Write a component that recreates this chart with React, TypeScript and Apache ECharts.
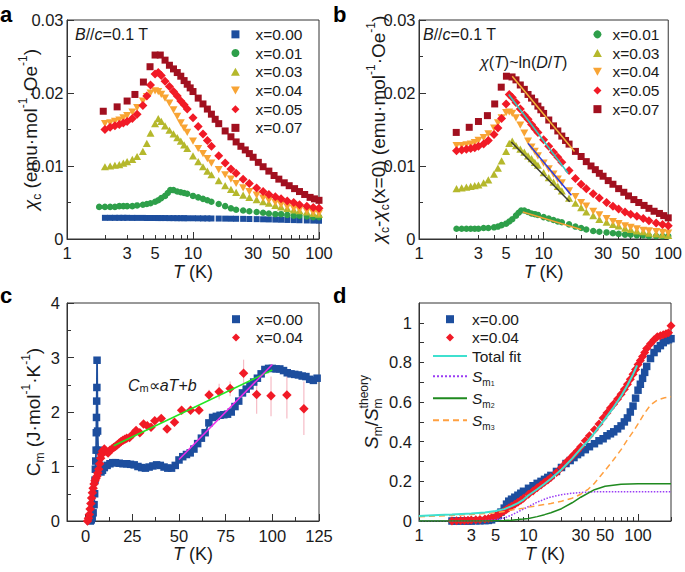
import React, { useEffect, useRef } from 'react';
import * as echarts from 'echarts';

const FONT = "'Liberation Sans', Arial, Helvetica, sans-serif";
const TXT = '#1a1a1a';
const AX = '#333333';

// ---------- Panel a : chi_c vs T ----------
const tA = [2, 2.2, 2.4, 2.6, 2.8, 3, 3.3, 3.6, 4, 4.3, 4.6, 5, 5.3, 5.6, 6, 6.5, 7, 7.5, 8, 8.5, 9, 10, 11, 12, 13, 14, 16, 18, 20, 22, 25, 28, 32, 36, 40, 45, 50, 56, 63, 70, 80, 90, 100];
const a000 = [.00290, .00290, .00290, .00290, .00290, .00290, .00289, .00289, .00289, .00288, .00288, .00288, .00287, .00287, .00287, .00286, .00286, .00285, .00285, .00285, .00284, .00284, .00283, .00282, .00282, .00281, .00280, .00279, .00278, .00277, .00276, .00274, .00272, .00270, .00268, .00266, .00264, .00261, .00259, .00257, .00254, .00252, .00250];
const tGa = [1.8, 2, 2.2, 2.4, 2.6, 2.8, 3, 3.3, 3.6, 4, 4.3, 4.6, 5, 5.3, 5.6, 6, 6.3, 6.6, 7, 7.5, 8, 8.5, 9, 10, 11, 12, 13, 14, 16, 18, 20, 22, 25, 28, 32, 36, 40, 45, 50, 56, 63, 70, 80, 90, 100];
const a001 = [.0044, .0044, .0044, .0044, .0045, .0045, .0045, .0045, .0046, .0047, .0048, .0049, .0051, .0053, .0056, .0059, .0063, .0067, .0067, .0065, .0064, .0063, .0062, .0059, .0057, .0055, .0053, .0051, .0048, .0045, .0042, .0040, .0039, .0038, .0037, .0036, .0035, .0034, .0034, .0033, .0032, .0032, .0031, .0030, .0030];
const a003 = [.0099, .0100, .0101, .0102, .0104, .0106, .0109, .0113, .0120, .0131, .0145, .0158, .0165, .0161, .0155, .0149, .0144, .0139, .0134, .0129, .0124, .0114, .0106, .0099, .0093, .0088, .0080, .0073, .0068, .0064, .0060, .0057, .0054, .0051, .0049, .0046, .0044, .0042, .0040, .0039, .0037, .0035, .0034];
const a004 = [.0158, .0159, .0161, .0163, .0166, .0169, .0174, .0180, .0189, .0195, .0200, .0203, .0202, .0198, .0193, .0186, .0177, .0168, .0159, .0152, .0146, .0134, .0124, .0117, .0110, .0104, .0095, .0088, .0082, .0076, .0070, .0065, .0060, .0056, .0053, .0050, .0047, .0044, .0042, .0040, .0038, .0036, .0035];
const a005 = [.0150, .0153, .0155, .0157, .0159, .0161, .0165, .0171, .0183, .0196, .0211, .0226, .0228, .0224, .0216, .0209, .0202, .0196, .0189, .0184, .0178, .0166, .0154, .0144, .0135, .0127, .0114, .0104, .0096, .0090, .0082, .0076, .0070, .0065, .0061, .0058, .0055, .0052, .0050, .0047, .0045, .0043, .0042];
const tDRa = [1.94, 2.5, 3.0, 3.46, 4.04, 4.56, 5.0, 5.5, 6, 6.5, 7, 7.5, 8, 8.5, 9, 9.5, 10, 11, 12, 13, 14, 15, 16, 18, 20, 22, 24, 26, 28, 30, 33, 36, 40, 44, 48, 53, 58, 64, 70, 77, 85, 92, 100];
const a007 = [.0175, .0181, .0189, .0198, .0215, .0236, .0252, .0252, .0245, .0238, .0233, .0228, .0223, .0217, .0212, .0207, .0202, .0193, .0185, .0178, .0171, .0164, .0158, .0148, .0140, .0133, .0127, .0122, .0117, .0112, .0105, .0099, .0093, .0087, .0082, .0077, .0073, .0069, .0065, .0061, .0057, .0055, .0053];

// ---------- Panel b : chi_c - chi_c(x=0) ----------
const tGb = [2, 2.2, 2.4, 2.6, 2.8, 3, 3.3, 3.6, 4, 4.3, 4.6, 5, 5.3, 5.6, 6, 6.3, 6.6, 7, 7.5, 8, 8.5, 9, 10, 11, 12, 13, 14, 16, 18, 20, 22, 25, 28, 32, 36, 40, 45, 50, 56, 63, 70, 80, 90, 100];
const b001 = [.0014, .0014, .0014, .0014, .0014, .0014, .0015, .0015, .0016, .0017, .0019, .0021, .0024, .0027, .0032, .0036, .0039, .0039, .0037, .0035, .0034, .0033, .0030, .0028, .0026, .0024, .0023, .0020, .0017, .0015, .0013, .0011, .0010, .0009, .0008, .0007, .0006, .0006, .0005, .0005, .0004, .0004, .0004, .0004];
const b003 = [.0069, .0070, .0071, .0072, .0073, .0074, .0077, .0081, .0089, .0097, .0107, .0120, .0131, .0134, .0128, .0123, .0119, .0114, .0110, .0105, .0101, .0091, .0084, .0078, .0072, .0066, .0056, .0049, .0043, .0037, .0032, .0027, .0023, .0020, .0018, .0015, .0013, .0011, .0010, .0008, .0007, .0006, .0005];
const b004 = [.0128, .0128, .0129, .0130, .0132, .0135, .0139, .0144, .0152, .0159, .0166, .0173, .0174, .0172, .0166, .0156, .0145, .0134, .0126, .0120, .0114, .0104, .0096, .0089, .0082, .0077, .0066, .0058, .0050, .0045, .0038, .0033, .0028, .0024, .0021, .0018, .0016, .0014, .0012, .0011, .0010, .0009, .0008];
const b005 = [.0121, .0122, .0123, .0124, .0125, .0127, .0130, .0135, .0143, .0152, .0165, .0185, .0198, .0194, .0187, .0178, .0170, .0164, .0157, .0151, .0146, .0136, .0127, .0119, .0112, .0105, .0094, .0083, .0075, .0069, .0062, .0056, .0050, .0045, .0041, .0037, .0034, .0031, .0028, .0025, .0022, .0020, .0018];
const tDRb = [1.99, 2.53, 3.0, 3.54, 4.05, 4.57, 5.03, 5.58, 6, 6.5, 7, 7.5, 8, 8.5, 9, 9.5, 10, 11, 12, 13, 14, 15, 16, 18, 20, 22, 24, 26, 28, 30, 33, 36, 40, 44, 48, 53, 58, 64, 70, 77, 85, 92, 100];
const b007 = [.0146, .0153, .0161, .0169, .0185, .0208, .0223, .0222, .0218, .0211, .0205, .0198, .0193, .0188, .0182, .0177, .0172, .0163, .0155, .0148, .0141, .0135, .0130, .0120, .0113, .0106, .0100, .0095, .0090, .0086, .0080, .0075, .0069, .0064, .0059, .0054, .0050, .0046, .0042, .0038, .0035, .0032, .0029];
// ln(D/T) fit segments: [T, value]
const fitB07 = [[5.6, .0223], [17.7, .0120]];
const fitB05 = [[5.25, .0198], [15.7, .0090]];
const fitB04 = [[7.5, .0131], [16.7, .0060]];
const fitB03 = [[5.5, .0133], [16.2, .0051]];
const fitB01 = [[6.8, .0037], [20, .0013]];

// ---------- Panel c : C_m vs T ----------
const cBlueT = [2.5, 3.0, 3.5, 4.0, 4.5, 4.8, 5.0, 5.2, 5.4, 5.6, 5.7, 5.8, 5.9, 6.0, 6.1, 6.4, 6.7, 7.0, 7.5, 8.2, 9, 10, 11.5, 13, 14.5, 16, 18, 20, 22, 24, 26, 28, 30, 32, 34, 36, 38, 40, 42, 44, 46, 48, 50, 52, 54, 56, 58, 60, 62, 64, 66, 68, 70, 72, 74, 76, 78, 80, 82, 84, 86, 88, 90, 92, 94, 96, 98, 100, 102, 104, 106, 108, 110, 112, 114, 116, 118, 120, 122, 124];
const cBlueV = [0.0, 0.02, 0.06, 0.15, 0.3, 0.5, 0.75, 0.95, 1.1, 1.3, 1.62, 1.9, 2.2, 2.45, 2.95, 1.65, 1.3, 1.1, 0.95, 0.9, 0.93, 0.98, 1.02, 1.05, 1.07, 1.07, 1.06, 1.05, 1.05, 1.04, 1.03, 1.0, 0.98, 0.97, 0.99, 1.01, 1.03, 1.02, 0.99, 0.97, 0.97, 1.02, 1.12, 1.18, 1.22, 1.25, 1.32, 1.42, 1.52, 1.62, 1.8, 1.9, 1.92, 1.94, 1.95, 1.96, 2.0, 2.1, 2.2, 2.35, 2.42, 2.48, 2.55, 2.62, 2.7, 2.78, 2.8, 2.8, 2.79, 2.79, 2.76, 2.72, 2.7, 2.69, 2.68, 2.66, 2.65, 2.6, 2.58, 2.62];
const cRedT = [1.0, 1.5, 2.0, 2.4, 2.8, 3.2, 3.6, 4.0, 4.5, 5.0, 5.5, 6.0, 6.5, 7.0, 7.5, 8.0, 8.5, 9.0, 10, 11, 12, 13, 14, 15, 16, 17, 18, 19, 20, 21, 22, 23.5, 25.5, 27, 29, 31, 33, 35, 37, 40.5, 43.6, 47.6, 51.4, 56.2, 60.7, 66.1, 71.5, 77.4, 84.6, 91.6, 99.3, 107.8, 116.9];
const cRedV = [0.0, 0.05, 0.12, 0.22, 0.32, 0.42, 0.52, 0.6, 0.68, 0.74, 0.78, 0.82, 0.88, 0.95, 1.05, 1.15, 1.22, 1.28, 1.32, 1.28, 1.25, 1.3, 1.32, 1.35, 1.37, 1.4, 1.43, 1.46, 1.48, 1.5, 1.52, 1.53, 1.6, 1.66, 1.62, 1.78, 1.75, 1.72, 1.84, 1.88, 1.69, 1.81, 2.03, 2.03, 2.03, 2.31, 2.37, 2.43, 2.71, 2.32, 2.3, 2.31, 2.06];
const errT = [66.1, 71.5, 77.4, 84.6, 91.6, 99.3, 107.8, 116.9];
const errLo = [2.21, 2.23, 2.29, 2.46, 1.97, 1.92, 1.88, 1.58];
const errHi = [2.41, 2.52, 2.56, 2.96, 2.66, 2.65, 2.72, 2.56];
const fitCg = [[15, 1.38], [100, 2.77]];
const fitCm = [[50, 1.13], [100, 2.87]];

// ---------- Panel d : S_m / S_m^theory ----------
const tD = [2, 2.2, 2.4, 2.6, 2.8, 3, 3.3, 3.6, 4, 4.3, 4.6, 5, 5.3, 5.6, 6, 6.3, 6.6, 7, 7.5, 8, 8.5, 9, 10, 11, 12, 13, 14, 15, 16, 18, 20, 22, 24, 26, 28, 30, 33, 36, 40, 44, 48, 52, 56, 60, 65, 70, 75, 80, 85, 90, 95, 100, 105, 110, 115, 120, 130, 140, 150, 160, 170, 180, 190, 200];
const d000 = [0, 0, 0, 0, 0, 0, 0.001, 0.001, 0.002, 0.003, 0.006, 0.015, 0.028, 0.045, 0.065, 0.085, 0.1, 0.11, 0.12, 0.13, 0.14, 0.15, 0.165, 0.178, 0.19, 0.2, 0.21, 0.22, 0.23, 0.25, 0.27, 0.29, 0.305, 0.32, 0.335, 0.345, 0.36, 0.375, 0.39, 0.405, 0.415, 0.43, 0.44, 0.45, 0.465, 0.48, 0.5, 0.52, 0.55, 0.58, 0.62, 0.66, 0.69, 0.72, 0.75, 0.78, 0.82, 0.85, 0.87, 0.885, 0.9, 0.91, 0.915, 0.92];
const d004 = [0, 0.001, 0.002, 0.003, 0.004, 0.005, 0.006, 0.008, 0.01, 0.013, 0.017, 0.024, 0.032, 0.04, 0.05, 0.058, 0.066, 0.075, 0.085, 0.095, 0.105, 0.115, 0.135, 0.152, 0.168, 0.182, 0.195, 0.207, 0.22, 0.245, 0.27, 0.295, 0.315, 0.335, 0.355, 0.375, 0.405, 0.43, 0.46, 0.49, 0.52, 0.545, 0.57, 0.59, 0.615, 0.64, 0.665, 0.69, 0.715, 0.74, 0.765, 0.79, 0.81, 0.83, 0.85, 0.87, 0.895, 0.915, 0.93, 0.935, 0.94, 0.945, 0.95, 0.985];
const tFit = [1, 1.5, 2, 3, 4, 5, 6, 7, 8, 9, 10, 12, 14, 16, 20, 25, 30, 35, 40, 50, 60, 70, 80, 90, 98];
const dTot = [0.025, 0.03, 0.033, 0.038, 0.043, 0.05, 0.06, 0.075, 0.09, 0.108, 0.13, 0.16, 0.188, 0.213, 0.26, 0.315, 0.365, 0.405, 0.445, 0.515, 0.575, 0.63, 0.685, 0.74, 0.785];
const tS = [1, 2, 3, 4, 5, 6, 7, 8, 9, 10, 12, 14, 16, 20, 25, 30, 40, 50, 70, 100, 150, 200];
const dS1 = [0, 0, 0, 0.002, 0.006, 0.015, 0.03, 0.046, 0.06, 0.073, 0.095, 0.11, 0.121, 0.133, 0.14, 0.144, 0.147, 0.148, 0.148, 0.148, 0.148, 0.148];
const dS2 = [0, 0, 0, 0, 0.001, 0.002, 0.004, 0.007, 0.01, 0.013, 0.022, 0.032, 0.042, 0.062, 0.092, 0.12, 0.158, 0.175, 0.186, 0.188, 0.188, 0.188];
const tS3 = [1, 2, 3, 4, 5, 6, 7, 8, 9, 10, 12, 14, 16, 20, 25, 30, 35, 40, 45, 50, 60, 70, 80, 90, 100, 115, 130, 150, 175, 200];
const dS3 = [0.022, 0.028, 0.033, 0.038, 0.042, 0.048, 0.055, 0.06, 0.065, 0.07, 0.077, 0.083, 0.088, 0.1, 0.115, 0.135, 0.16, 0.19, 0.225, 0.255, 0.31, 0.36, 0.41, 0.45, 0.49, 0.545, 0.585, 0.61, 0.622, 0.627];

// ---------- axis tick / label values ----------
const LOG_LABELS = [1, 3, 5, 10, 30, 50, 100];
const LOG_MINOR = [2, 3, 4, 5, 6, 7, 8, 9, 20, 30, 40, 50, 60, 70, 80, 90];
const LOG_MINOR_D = [2, 3, 4, 5, 6, 7, 8, 9, 20, 30, 40, 50, 60, 70, 80, 90, 200];
const LOG_MAJOR = [1, 10, 100];
const C_LABELS = [0, 25, 50, 75, 100, 125];
const C_MINOR = [12.5, 37.5, 62.5, 87.5, 112.5];
const D_YLABELS = [0, 0.2, 0.4, 0.6, 0.8, 1];
const D_YTICKS = [0, 0.1, 0.2, 0.3, 0.4, 0.5, 0.6, 0.7, 0.8, 0.9, 1];

const LEGEND_TEXT: Record<string, string> = {
  a0: 'x=0.00', a1: 'x=0.01', a3: 'x=0.03', a4: 'x=0.04', a5: 'x=0.05', a7: 'x=0.07',
  b1: 'x=0.01', b3: 'x=0.03', b4: 'x=0.04', b5: 'x=0.05', b7: 'x=0.07',
  c0: 'x=0.00', c4: 'x=0.04',
  d0: 'x=0.00', d4: 'x=0.04', dT: 'Total fit',
  dS1: '{si|S}{ls|m}{lss|1}', dS2: '{si|S}{ls|m}{lss|2}', dS3: '{si|S}{ls|m}{lss|3}',
};

const C = {
  blue: '#1d4e9e', green: '#2e9f4a', olive: '#b5b82c', orange: '#f8a434', red: '#f11a26', dred: '#a1101f',
};
const SQ = 'path://M0,0L10,0L10,10L0,10Z';
const DIA = 'path://M5,0L10,5L5,10L0,5Z';
const TRI = 'path://M5,0L10,9L0,9Z';
const INV_TRI = 'path://M0,0L10,0L5,9Z';

const zip = (t: number[], v: number[]) => t.map((x, i) => [x, v[i]]);

function richC(fs: number) {
  const s = Math.round(fs * 0.64);
  return {
    i: { fontStyle: 'italic', fontSize: fs, fontFamily: FONT, color: TXT },
    sub: { fontSize: s, fontFamily: FONT, color: TXT, verticalAlign: 'bottom', lineHeight: s },
    sup: { fontSize: s, fontFamily: FONT, color: TXT, verticalAlign: 'top', lineHeight: s },
    supb: { fontSize: s, fontFamily: FONT, color: TXT, verticalAlign: 'top', lineHeight: s, padding: [0, 0, 0, -Math.round(s * 0.85)] },
  };
}
function richG(fs: number) {
  const s = Math.round(fs * 0.66);
  return {
    i: { fontStyle: 'italic', fontSize: fs, fontFamily: FONT, fill: TXT },
    sub: { fontSize: s, fontFamily: FONT, fill: TXT, verticalAlign: 'bottom', lineHeight: s },
  };
}

const NAME_X = {
  fontSize: 18, fontFamily: FONT, color: TXT, lineHeight: 24, rich: richC(18),
};
const NAME_Y = {
  fontSize: 19, fontFamily: FONT, color: TXT, lineHeight: 26, rich: richC(19),
};
const LABEL = { fontSize: 16.5, fontFamily: FONT, color: TXT };

function logMain(gi: number, max: number, minor: number[]) {
  return {
    type: 'log', logBase: 10, gridIndex: gi, min: 1, max,
    name: '{i|T} (K)', nameLocation: 'middle', nameGap: 21, nameTextStyle: NAME_X, nameMoveOverlap: false,
    axisLine: { show: true, onZero: false, lineStyle: { color: AX, width: 1 } },
    axisTick: { show: true, inside: true, length: 4, customValues: minor, lineStyle: { color: AX } },
    axisLabel: { ...LABEL, margin: 5, customValues: LOG_LABELS, formatter: (v: number) => String(v) },
    splitLine: { show: false },
  };
}
function logMajor(gi: number, max: number) {
  return {
    type: 'log', logBase: 10, gridIndex: gi, min: 1, max, position: 'bottom',
    axisLine: { show: false, onZero: false },
    axisTick: { show: true, inside: true, length: 7, customValues: LOG_MAJOR, lineStyle: { color: AX } },
    axisLabel: { show: false },
    splitLine: { show: false },
  };
}
function chiY(gi: number, name: string, gap: number) {
  return {
    type: 'value', gridIndex: gi, min: 0, max: 0.03, interval: 0.01,
    name, nameLocation: 'middle', nameGap: gap, nameTextStyle: NAME_Y, nameMoveOverlap: false,
    axisLine: { show: true, onZero: false, lineStyle: { color: AX, width: 1 } },
    axisTick: { show: true, inside: true, length: 7, lineStyle: { color: AX } },
    minorTick: { show: true, splitNumber: 2, length: 4, lineStyle: { color: AX } },
    axisLabel: { ...LABEL, margin: 3.5 },
    splitLine: { show: false }, minorSplitLine: { show: false },
  };
}

function sc(name: string, xi: number, yi: number, data: number[][], symbol: string, size: number, color: string, z = 2) {
  return { type: 'scatter', name, xAxisIndex: xi, yAxisIndex: yi, data, symbol, symbolSize: size, symbolKeepAspect: true, itemStyle: { color, opacity: 1 }, silent: true, z };
}
function ln(name: string, xi: number, yi: number, data: number[][], color: string, width: number, type: any = 'solid', z = 5) {
  return { type: 'line', name, xAxisIndex: xi, yAxisIndex: yi, data, symbol: 'none', lineStyle: { color, width, type }, itemStyle: { color }, silent: true, z };
}

function legend(names: any[], left: number, top: number, itemWidth: number, lineHeight: number) {
  return {
    show: true, orient: 'vertical', left, top, padding: 0, itemGap: 0,
    itemWidth, itemHeight: 8, selectedMode: false, data: names, symbolKeepAspect: true,
    formatter: (n: string) => LEGEND_TEXT[n] || n,
    textStyle: {
      fontSize: 15.5, fontFamily: FONT, color: TXT, lineHeight,
      rich: {
        si: { fontStyle: 'italic', fontSize: 15.5, fontFamily: FONT, color: TXT, lineHeight: 22 },
        ls: { fontSize: 10, fontFamily: FONT, color: TXT, verticalAlign: 'bottom', lineHeight: 12 },
        lss: { fontSize: 7, fontFamily: FONT, color: TXT, verticalAlign: 'bottom', lineHeight: 6 },
      },
    },
  };
}
const lineItem = (name: string) => ({ name, itemStyle: { opacity: 0 } });

function buildOption(): any {
  const grids = [
    { left: 67, top: 20, width: 252, height: 219 },
    { left: 419, top: 20, width: 253, height: 219 },
    { left: 67, top: 303, width: 252, height: 218 },
    { left: 419, top: 303, width: 252, height: 218 },
  ].map((g) => ({ ...g, show: true, borderColor: AX, borderWidth: 1, backgroundColor: 'transparent', containLabel: false }));

  const xAxis = [
    logMain(0, 100, LOG_MINOR), logMajor(0, 100),
    logMain(1, 100, LOG_MINOR), logMajor(1, 100),
    {
      type: 'value', gridIndex: 2, min: -10, max: 125,
      name: '{i|T} (K)', nameLocation: 'middle', nameGap: 21, nameTextStyle: NAME_X, nameMoveOverlap: false,
      axisLine: { show: true, onZero: false, lineStyle: { color: AX, width: 1 } },
      axisTick: { show: true, inside: true, length: 7, customValues: C_LABELS, lineStyle: { color: AX } },
      axisLabel: { ...LABEL, margin: 6, customValues: C_LABELS },
      splitLine: { show: false },
    },
    {
      type: 'value', gridIndex: 2, min: -10, max: 125, position: 'bottom',
      axisLine: { show: false, onZero: false },
      axisTick: { show: true, inside: true, length: 4, customValues: C_MINOR, lineStyle: { color: AX } },
      axisLabel: { show: false }, splitLine: { show: false },
    },
    logMain(3, 200, LOG_MINOR_D), logMajor(3, 200),
  ];

  const yAxis = [
    chiY(0, '{i|χ}{sub|c} (emu·mol{sup|-1}·Oe{sup|-1})', 24),
    chiY(1, '{i|χ}{sub|c}-{i|χ}{sub|c}(x=0) (emu·mol{sup|-1}·Oe{sup|-1})', 28),
    {
      type: 'value', gridIndex: 2, min: 0, max: 4, interval: 1,
      name: 'C{sub|m} (J·mol{sup|-1}·K{sup|-1})', nameLocation: 'middle', nameGap: 21, nameTextStyle: NAME_Y, nameMoveOverlap: false,
      axisLine: { show: true, onZero: false, lineStyle: { color: AX, width: 1 } },
      axisTick: { show: true, inside: true, length: 7, lineStyle: { color: AX } },
      minorTick: { show: true, splitNumber: 2, length: 4, lineStyle: { color: AX } },
      axisLabel: { ...LABEL, margin: 7 },
      splitLine: { show: false }, minorSplitLine: { show: false },
    },
    {
      type: 'value', gridIndex: 3, min: 0, max: 1.1,
      name: '{i|S}{sub|m}/{i|S}{sub|m}{supb|theory}', nameLocation: 'middle', nameGap: 35, nameTextStyle: NAME_Y, nameMoveOverlap: false,
      axisLine: { show: true, onZero: false, lineStyle: { color: AX, width: 1 } },
      axisTick: { show: true, inside: true, length: 5, customValues: D_YTICKS, lineStyle: { color: AX } },
      axisLabel: { ...LABEL, margin: 7, customValues: D_YLABELS, formatter: (v: number) => String(v) },
      splitLine: { show: false },
    },
  ];

  const series: any[] = [
    // a
    sc('a0', 0, 0, zip(tA, a000), SQ, 6, C.blue),
    sc('a1', 0, 0, zip(tGa, a001), 'circle', 6.5, C.green),
    sc('a3', 0, 0, zip(tA, a003), TRI, 8, C.olive),
    sc('a4', 0, 0, zip(tA, a004), INV_TRI, 8, C.orange),
    sc('a5', 0, 0, zip(tA, a005), DIA, 9, C.red),
    sc('a7', 0, 0, zip(tDRa, a007), SQ, 7, C.dred),
    // b
    sc('b1', 2, 1, zip(tGb, b001), 'circle', 6.5, C.green),
    sc('b3', 2, 1, zip(tA, b003), TRI, 8, C.olive),
    sc('b4', 2, 1, zip(tA, b004), INV_TRI, 8, C.orange),
    sc('b5', 2, 1, zip(tA, b005), DIA, 9, C.red),
    sc('b7', 2, 1, zip(tDRb, b007), SQ, 7, C.dred),
    ln('fitB07', 2, 1, fitB07, '#f3b43a', 1.5),
    ln('fitB05', 2, 1, fitB05, '#33c9c2', 1.5),
    ln('fitB04', 2, 1, fitB04, '#2638e6', 1.5),
    ln('fitB03', 2, 1, fitB03, '#3b3b30', 1.5),
    ln('fitB01', 2, 1, fitB01, '#f0a234', 1.5),
    // c
    {
      type: 'custom', name: 'cErr', xAxisIndex: 4, yAxisIndex: 2, silent: true, z: 1,
      data: errT.map((t, i) => [t, errLo[i], errHi[i]]),
      encode: { x: 0, y: [1, 2] },
      renderItem: (_p: any, api: any) => {
        const x = api.value(0);
        const p1 = api.coord([x, api.value(1)]);
        const p2 = api.coord([x, api.value(2)]);
        return { type: 'line', shape: { x1: p1[0], y1: p1[1], x2: p2[0], y2: p2[1] }, style: { stroke: '#f6bcc6', lineWidth: 1.2 } };
      },
    },
    ln('cLine', 4, 2, zip(cBlueT, cBlueV), C.blue, 1.8, 'solid', 2),
    sc('c0', 4, 2, zip(cBlueT, cBlueV), SQ, 7.5, C.blue, 3),
    sc('c4', 4, 2, zip(cRedT, cRedV), DIA, 9.5, C.red, 4),
    ln('fitCg', 4, 2, fitCg, '#22e622', 1.5),
    ln('fitCm', 4, 2, fitCm, '#ee2ee8', 1.5),
    // d
    sc('d0', 6, 3, zip(tD, d000), SQ, 7.5, C.blue, 2),
    sc('d4', 6, 3, zip(tD, d004), DIA, 9, C.red, 3),
    ln('dT', 6, 3, zip(tFit, dTot), '#3fe0cf', 2, 'solid', 6),
    ln('dS1', 6, 3, zip(tS, dS1), '#9a3cf5', 1.5, 'dotted', 5),
    ln('dS2', 6, 3, zip(tS, dS2), '#1f8a1f', 1.5, 'solid', 5),
    ln('dS3', 6, 3, zip(tS3, dS3), '#ffa040', 1.5, [6, 4], 5),
  ];

  const gText = (text: string, x: number, y: number, fs: number, extra: any = {}) => ({
    type: 'text', x, y, silent: true,
    style: { text, fontSize: fs, fontFamily: FONT, fill: TXT, align: 'left', verticalAlign: 'middle', rich: richG(fs), ...extra },
  });

  const graphic = [
    gText('a', 0, 14, 22, { fontWeight: 'bold', fill: '#000' }),
    gText('b', 333, 14, 22, { fontWeight: 'bold', fill: '#000' }),
    gText('c', 0, 295, 22, { fontWeight: 'bold', fill: '#000' }),
    gText('d', 333, 295, 22, { fontWeight: 'bold', fill: '#000' }),
    gText('{i|B}//{i|c}=0.1 T', 75, 34, 16),
    gText('{i|B}//{i|c}=0.1 T', 423, 34, 16),
    gText('{i|χ}({i|T})~ln({i|D}/{i|T})', 480, 62, 16),
    gText('{i|C}{sub|m}∝{i|aT}+{i|b}', 128, 385, 16),
  ];

  return {
    animation: false,
    backgroundColor: '#ffffff',
    grid: grids,
    xAxis,
    yAxis,
    legend: [
      legend(['a0', 'a1', 'a3', 'a4', 'a5', 'a7'], 231, 25, 30, 18.7),
      legend(['b1', 'b3', 'b4', 'b5', 'b7'], 593, 25, 20, 18.7),
      legend(['c0', 'c4'], 232, 310, 30, 18.4),
      legend(['d0', 'd4', lineItem('dT'), lineItem('dS1'), lineItem('dS2'), lineItem('dS3')], 432, 310, 34, 18.4),
    ],
    series,
    graphic,
  };
}

export default function App() {
  const ref = useRef<HTMLDivElement>(null);
  useEffect(() => {
    document.body.style.margin = '0';
    const chart = echarts.init(ref.current!, null, { renderer: 'svg' });
    chart.setOption(buildOption());
    return () => chart.dispose();
  }, []);
  return <div ref={ref} style={{ width: 685, height: 572 }} />;
}
